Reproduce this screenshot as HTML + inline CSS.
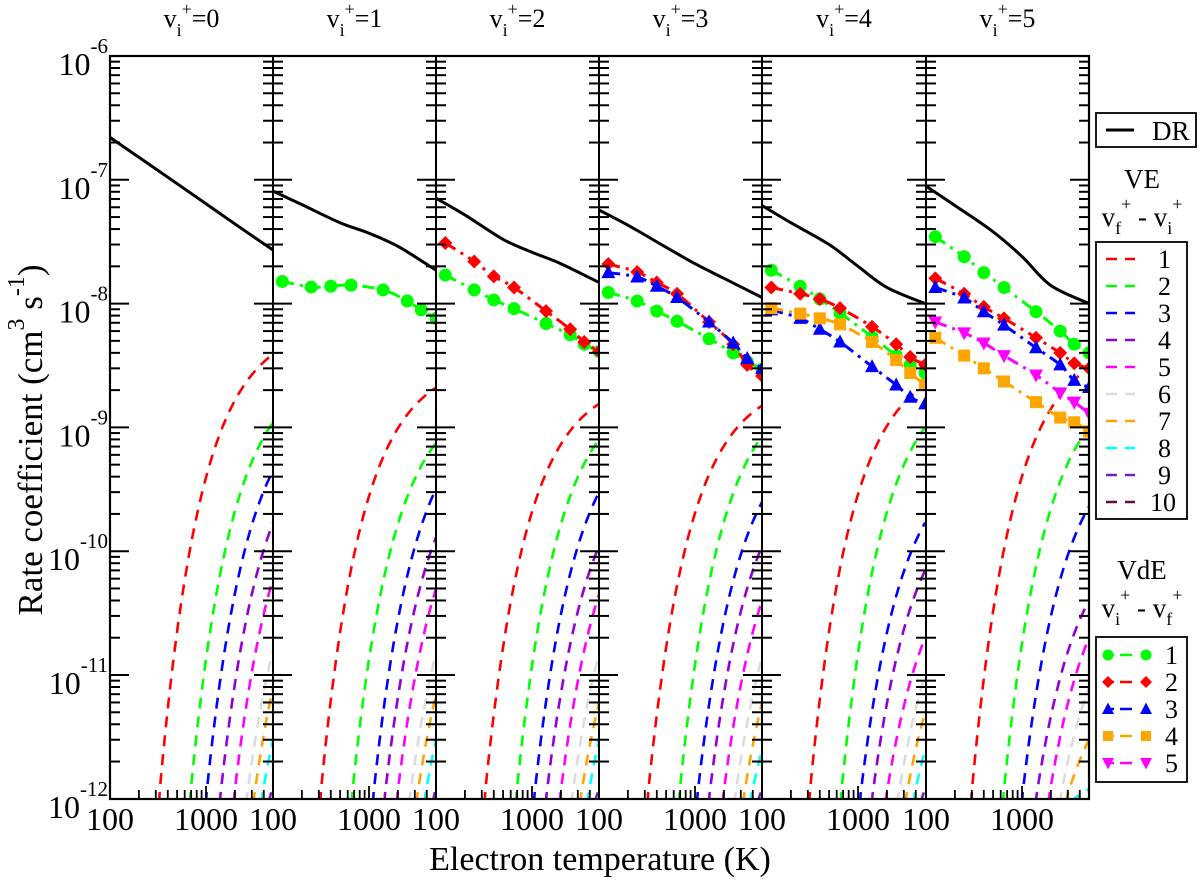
<!DOCTYPE html>
<html><head><meta charset="utf-8"><style>
html,body{margin:0;padding:0;background:#fff;}
svg{display:block;}
svg text{font-family:"Liberation Serif","DejaVu Serif",serif;}
</style></head><body>
<svg id="chart" width="1200" height="893" viewBox="0 0 1200 893" xmlns="http://www.w3.org/2000/svg" font-family="Liberation Serif, DejaVu Serif, serif">
<g id="plots"></g>
<g id="axes"></g>
<g id="labels"></g>
<g id="legend"></g>
</svg>
<script>
// ---------- data ----------
const panelTitles = ["0","1","2","3","4","5"];
const drT = [100,200,500,1000,2000,5000];
// DR rates in units of 1e-9 cm^3 s^-1
const drP0 = [220,152,93,64,44,27];
const drP1 = [81,63,45,37,29,18.6];
const drP2 = [71,52,33,26,21,14.8];
const drP3 = [57,43,28.5,21,16,11.2];
const drP4 = [62,45,30,20,13.5,10];
const drP5 = [89,62,38,24,14,10];
const drSeries = [drP0,drP1,drP2,drP3,drP4,drP5];

// VE curves: onset temperature (rate = 1e-12) and value at 5000 K (1e-9 units), for dv = 1..10
const veOnsetP0 = [324,680,1000,1400,1950,2650,3150,3800,4600];
const veEndP0 = [3.9,1.1,0.45,0.17,0.06,0.016,0.008,0.003,0.0013];
const veOnsetP1 = [310,660,1100,1450,1950,2650,3150,3800,4700];
const veEndP1 = [2.1,0.75,0.32,0.13,0.05,0.015,0.007,0.003,0.0013];
const veOnsetP2 = [320,680,1050,1400,1950,2600,3200,3800,4600];
const veEndP2 = [1.55,0.8,0.3,0.11,0.045,0.015,0.006,0.003,0.0012];
const veOnsetP3 = [320,680,1050,1400,1950,2600,3200,3800,4600];
const veEndP3 = [1.5,0.85,0.25,0.11,0.04,0.014,0.006,0.0025,0.0012];
const veOnsetP4 = [310,660,1050,1400,1950,2600,3150,3800,4600];
const veEndP4 = [2.2,1.0,0.17,0.07,0.02,0.01,0.005,0.0025,0.0012];
const veOnsetP5 = [295,635,1000,1400,1900,2500,2900,3500,4000,4500];
const veEndP5 = [3.0,1.0,0.23,0.04,0.02,0.008,0.003,0.0012,0.0008,0.0005];
const veOnsets = [veOnsetP0,veOnsetP1,veOnsetP2,veOnsetP3,veOnsetP4,veOnsetP5];
const veEnds = [veEndP0,veEndP1,veEndP2,veEndP3,veEndP4,veEndP5];
const veColors = ["#ff0000","#00ff00","#0000ff","#9400d3","#ff00ff","#dcdcdc","#ffa500","#00ffff","#7220c0","#670740"];

// VdE markers at temperature grid (1e-9 units)
const vdeT = [125,250,400,650,1400,2500,3500,5000];
const vdeP1d1 = [15.1,13.6,13.8,14.1,12.9,10.5,8.9,7.6];
const vdeP2d1 = [17.0,12.9,10.7,9.1,6.9,5.6,4.7,4.1];
const vdeP2d2 = [30.9,21.9,16.6,13.5,8.7,6.2,4.9,4.1];
const vdeP3d1 = [12.3,10.5,8.7,7.2,5.2,4.0,3.4,2.95];
const vdeP3d2 = [20.9,18.0,14.8,12.0,7.1,4.7,3.2,2.6];
const vdeP3d3 = [17.8,16.4,13.8,11.2,7.1,4.8,3.6,3.0];
const vdeP4d1 = [18.6,13.8,10.9,8.4,5.4,3.8,3.2,2.75];
const vdeP4d2 = [13.5,12.0,10.9,9.2,6.5,4.7,3.7,3.2];
const vdeP4d3 = [8.9,7.6,6.2,4.9,3.1,2.2,1.75,1.55];
const vdeP4d4 = [9.2,8.3,7.6,6.8,4.9,3.5,2.75,2.2];
const vdeP5d1 = [34.7,23.9,17.8,13.5,8.6,6.0,4.7,4.0];
const vdeP5d2 = [16.0,12.0,9.4,7.6,5.3,4.0,3.3,3.0];
const vdeP5d3 = [13.5,11.1,8.6,6.7,4.4,3.2,2.4,2.1];
const vdeP5d4 = [5.3,3.8,3.0,2.35,1.6,1.2,1.1,0.93];
const vdeP5d5 = [7.1,5.8,4.8,3.8,2.65,1.9,1.6,1.3];
const vdeSeries = [
 {p:1,d:1,v:vdeP1d1},
 {p:2,d:1,v:vdeP2d1},{p:2,d:2,v:vdeP2d2},
 {p:3,d:1,v:vdeP3d1},{p:3,d:2,v:vdeP3d2},{p:3,d:3,v:vdeP3d3},
 {p:4,d:1,v:vdeP4d1},{p:4,d:2,v:vdeP4d2},{p:4,d:3,v:vdeP4d3},{p:4,d:4,v:vdeP4d4},
 {p:5,d:1,v:vdeP5d1},{p:5,d:2,v:vdeP5d2},{p:5,d:3,v:vdeP5d3},{p:5,d:4,v:vdeP5d4},{p:5,d:5,v:vdeP5d5}
];
const vdeColors = {1:"#00ff00",2:"#ff0000",3:"#0000ff",4:"#ffa500",5:"#ff00ff"};

const yTickExps = [-6,-7,-8,-9,-10,-11,-12];

// ---------- layout ----------
const NS="http://www.w3.org/2000/svg";
const FONT="Liberation Serif, DejaVu Serif, serif";
const panelLeft=[110,273,436,599,762,926], plotRight=1089, plotTop=56, plotBottom=799;
const decadePx=123.8, xDecPx=96;
function yOf(v){ return plotTop + (-6 - Math.log10(v*1e-9))*decadePx; }
function yOfExp(e){ return plotTop + (-6 - e)*decadePx; }
function xOf(T,p){ return panelLeft[p] + Math.log10(T/100)*xDecPx; }
function mk(tag,attrs,parent){ const e=document.createElementNS(NS,tag); for(const k in attrs) e.setAttribute(k,attrs[k]); if(tag==="text") e.setAttribute("font-family",FONT); parent.appendChild(e); return e; }
function catmull(pts){
  if(pts.length<2) return "";
  let d="M"+pts[0][0].toFixed(2)+","+pts[0][1].toFixed(2);
  for(let i=0;i<pts.length-1;i++){
    const p0=pts[i-1]||pts[i], p1=pts[i], p2=pts[i+1], p3=pts[i+2]||p2;
    const c1=[p1[0]+(p2[0]-p0[0])/6, p1[1]+(p2[1]-p0[1])/6];
    const c2=[p2[0]-(p3[0]-p1[0])/6, p2[1]-(p3[1]-p1[1])/6];
    d+=" C"+c1[0].toFixed(2)+","+c1[1].toFixed(2)+" "+c2[0].toFixed(2)+","+c2[1].toFixed(2)+" "+p2[0].toFixed(2)+","+p2[1].toFixed(2);
  }
  return d;
}
const svg=document.getElementById("chart");
const plots=document.getElementById("plots");
const defs=mk("defs",{},svg);
for(let p=0;p<6;p++){
  const cp=mk("clipPath",{id:"clip"+p},defs);
  const r=(p<5?panelLeft[p+1]:plotRight);
  mk("rect",{x:panelLeft[p],y:plotTop,width:r-panelLeft[p],height:plotBottom-plotTop},cp);
}

for(let p=0;p<6;p++){
  const g=mk("g",{"clip-path":"url(#clip"+p+")"},plots);
  
  
  const ons=veOnsets[p], ends=veEnds[p];
  for(let k=0;k<ons.length;k++){
    const T0=ons[k], lend=Math.log10(ends[k]*1e-9);
    const b=(lend+12)/(1/T0-1/5000);
    let pts=[];
    for(let i=0;i<=120;i++){
      const T=T0*Math.pow(5000/T0,i/120);
      const lv=-12+b*(1/T0-1/T);
      pts.push([xOf(T,p), plotTop+(-6-lv)*decadePx]);
    }
    pts[0][1]=plotBottom+4;
    const d="M"+pts.map(q=>q[0].toFixed(2)+","+q[1].toFixed(2)).join(" L");
    const path=mk("path",{d:d,fill:"none",stroke:veColors[k],"stroke-width":2.6,"stroke-dasharray":"11 8"},g);
    
    
  }
  const drPts=drT.map((T,i)=>[xOf(T,p),yOf(drSeries[p][i])]);
  const dr=mk("path",{d:catmull(drPts),fill:"none",stroke:"#000","stroke-width":3},g);
  
  
}
for(const s of vdeSeries){
  const g=mk("g",{"clip-path":"url(#clip"+s.p+")"},plots);
  
  
  const col=vdeColors[s.d];
  const pts=vdeT.map((T,i)=>[xOf(T,s.p),yOf(s.v[i])]);
  mk("path",{d:catmull(pts),fill:"none",stroke:col,"stroke-width":3,"stroke-dasharray":"12 6 3 6"},g);
  pts.forEach(q=>{
    let m;
    const x=q[0], y=q[1];
    if(s.d===1) m=mk("circle",{cx:x,cy:y,r:6.5,fill:col},g);
    else if(s.d===2) m=mk("polygon",{points:`${x},${y-7} ${x+7},${y} ${x},${y+7} ${x-7},${y}`,fill:col},g);
    else if(s.d===3) m=mk("polygon",{points:`${x},${y-7.5} ${x+7},${y+5.5} ${x-7},${y+5.5}`,fill:col},g);
    else if(s.d===4) m=mk("rect",{x:x-6,y:y-6,width:12,height:12,fill:col},g);
    else m=mk("polygon",{points:`${x},${y+7.5} ${x+7},${y-5.5} ${x-7},${y-5.5}`,fill:col},g);
    
    
  });
}

// ---------- axes ----------
const axes=document.getElementById("axes");
const frame=mk("rect",{x:110,y:56,width:plotRight-110,height:plotBottom-56,fill:"none",stroke:"#000","stroke-width":2.2},axes);


const bounds=panelLeft.concat([plotRight]);
for(let b=0;b<bounds.length;b++){
  const x=bounds[b];
  const gl=mk("g",{stroke:"#000","stroke-width":2},axes);
  
  
  if(b>0 && b<6) mk("line",{x1:x,y1:56,x2:x,y2:plotBottom},gl);
  const right=b<6, left=b>0;
  for(let e=-12;e<=-6;e++){
    const y=yOfExp(e);
    if(e>-12 && e<-6){ if(right) mk("line",{x1:x,y1:y,x2:x+19,y2:y},gl); if(left) mk("line",{x1:x-19,y1:y,x2:x,y2:y},gl); }
    if(e<-6) for(let m=2;m<=9;m++){
      const ym=plotTop+(-6-(e+Math.log10(m)))*decadePx;
      if(right) mk("line",{x1:x,y1:ym,x2:x+10,y2:ym},gl);
      if(left) mk("line",{x1:x-10,y1:ym,x2:x,y2:ym},gl);
    }
  }
}
for(let p=0;p<6;p++){
  const gx=mk("g",{stroke:"#000","stroke-width":1.8},axes);
  
  
  [200,300,400,500,600,700,800,900,1000,2000,3000,4000].forEach(T=>{
    const x=xOf(T,p), len=(T===1000?13:9);
    mk("line",{x1:x,y1:plotBottom,x2:x,y2:plotBottom-len},gx);
  });
}

// ---------- labels ----------
const lab=document.getElementById("labels");
yTickExps.forEach(e=>{
  const y=yOfExp(e);
  const t=mk("text",{x:108,y:y+19,"text-anchor":"end","font-size":32},lab);
  
  
  t.innerHTML='10<tspan font-size="21" dy="-22">'+e+'</tspan>';
});
for(let p=0;p<6;p++){
  [[100,"100"],[1000,"1000"]].forEach(([T,s])=>{
    const t=mk("text",{x:xOf(T,p),y:830,"text-anchor":"middle","font-size":32},lab);
    
    
    t.textContent=s;
  });
  const cx=(panelLeft[p]+(p<5?panelLeft[p+1]:plotRight))/2;
  const t=mk("text",{x:cx,y:27,"text-anchor":"middle","font-size":26},lab);
  
  
  t.innerHTML='v<tspan font-size="18" dy="9">i</tspan><tspan font-size="18" dy="-21">+</tspan><tspan dy="12">='+panelTitles[p]+'</tspan>';
}
const xt=mk("text",{x:600,y:870,"text-anchor":"middle","font-size":34},lab);


xt.textContent="Electron temperature (K)";
const yt=mk("text",{x:0,y:0,"text-anchor":"middle","font-size":35,transform:"translate(42,440) rotate(-90)"},lab);


yt.innerHTML='Rate coefficient (cm<tspan font-size="24" dy="-18">3</tspan><tspan dy="18"> s</tspan><tspan font-size="24" dy="-18">-1</tspan><tspan dy="18">)</tspan>';

// ---------- legend ----------
const lg=document.getElementById("legend");
const drBox=mk("rect",{x:1096,y:113,width:100,height:34,fill:"#fff",stroke:"#000","stroke-width":1.8},lg);


mk("line",{x1:1106,y1:130,x2:1134,y2:130,stroke:"#000","stroke-width":3},lg);
const drt=mk("text",{x:1152,y:140,"font-size":27},lg);


drt.textContent="DR";
const veT=mk("text",{x:1142,y:188,"text-anchor":"middle","font-size":27},lg);


veT.textContent="VE";
const veS=mk("text",{x:1142,y:226,"text-anchor":"middle","font-size":27},lg);


veS.innerHTML='v<tspan font-size="18" dy="8">f</tspan><tspan font-size="18" dy="-24">+</tspan><tspan dy="16"> - v</tspan><tspan font-size="18" dy="8">i</tspan><tspan font-size="18" dy="-24">+</tspan>';
const veBox=mk("rect",{x:1096,y:242,width:91,height:277,fill:"#fff",stroke:"#000","stroke-width":1.8},lg);


veColors.forEach((c,i)=>{
  const y=259+i*27;
  mk("line",{x1:1106,y1:y,x2:1135,y2:y,stroke:c,"stroke-width":2.6,"stroke-dasharray":"11 8"},lg);
  const t=mk("text",{x:(i<9?1158:1150),y:y+9,"font-size":26},lg);
  
  
  t.textContent=String(i+1);
});
const vdT=mk("text",{x:1142,y:579,"text-anchor":"middle","font-size":27},lg);


vdT.textContent="VdE";
const vdS=mk("text",{x:1142,y:617,"text-anchor":"middle","font-size":27},lg);


vdS.innerHTML='v<tspan font-size="18" dy="8">i</tspan><tspan font-size="18" dy="-24">+</tspan><tspan dy="16"> - v</tspan><tspan font-size="18" dy="8">f</tspan><tspan font-size="18" dy="-24">+</tspan>';
const vdBox=mk("rect",{x:1096,y:637,width:91,height:145,fill:"#fff",stroke:"#000","stroke-width":1.8},lg);


[1,2,3,4,5].forEach((d,i)=>{
  const y=655+i*27, col=vdeColors[d];
  mk("line",{x1:1108,y1:y,x2:1146,y2:y,stroke:col,"stroke-width":2.6,"stroke-dasharray":"6 6 12 20"},lg);
  [1108,1146].forEach(x=>{
    if(d===1) mk("circle",{cx:x,cy:y,r:5.5,fill:col},lg);
    else if(d===2) mk("polygon",{points:`${x},${y-6} ${x+6},${y} ${x},${y+6} ${x-6},${y}`,fill:col},lg);
    else if(d===3) mk("polygon",{points:`${x},${y-6.5} ${x+6},${y+5} ${x-6},${y+5}`,fill:col},lg);
    else if(d===4) mk("rect",{x:x-5,y:y-5,width:10,height:10,fill:col},lg);
    else mk("polygon",{points:`${x},${y+6.5} ${x+6},${y-5} ${x-6},${y-5}`,fill:col},lg);
  });
  const t=mk("text",{x:1165,y:y+9,"font-size":26},lg);
  
  
  t.textContent=String(d);
});
</script>
</body></html>
